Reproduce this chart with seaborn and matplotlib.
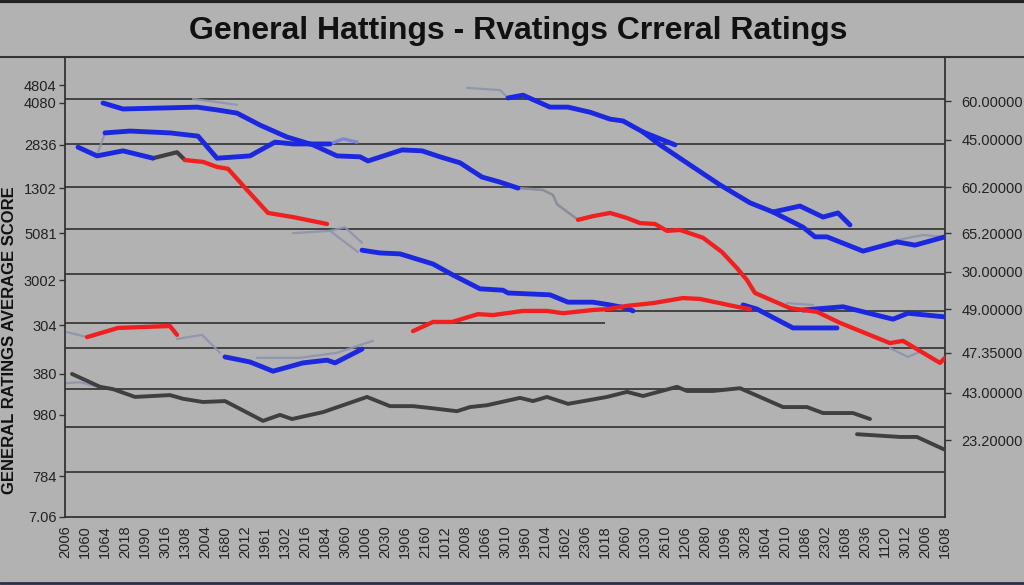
import matplotlib
matplotlib.use("Agg")
import matplotlib.pyplot as plt
import seaborn as sns
from matplotlib.lines import Line2D

# ---- data (x = week index, y = rating score) ----
blue_a_x = [1.9, 2.9, 4.75, 6.6, 7.6, 8.6, 9.75, 11.1, 12.4, 13.6, 14.75, 15.15, 16.85, 17.85, 18.75, 19.75, 20.85, 21.75, 22.65]
blue_a_y = [90.0, 88.7, 88.9, 89.1, 88.5, 87.8, 85.2, 82.6, 80.9, 78.5, 78.3, 77.4, 79.8, 79.6, 78.3, 77.0, 73.9, 72.8, 71.5]
gray_a_x = [22.65, 23.9, 24.4, 24.6, 25.65]
gray_a_y = [71.5, 71.1, 70.0, 68.0, 64.6]

blue_b_x = [0.65, 1.6, 2.9, 4.4]
blue_b_y = [80.4, 78.5, 79.6, 78.0]
dark_b_x = [4.4, 5.6, 6.0]
dark_b_y = [78.0, 79.3, 77.6]

blue_c_x = [2.0, 3.25, 5.25, 6.65, 7.6, 9.25, 10.5, 11.4, 12.4, 13.25]
blue_c_y = [83.5, 83.9, 83.5, 82.8, 78.0, 78.5, 81.5, 81.1, 81.1, 81.1]
lav_c_x = [13.25, 13.9, 14.6]
lav_c_y = [81.1, 82.2, 81.5]

blue_d_x = [14.85, 15.75, 16.75, 18.4, 19.4, 20.75, 21.9, 22.15, 24.25, 25.15, 26.4, 27.25, 28.1, 28.4]
blue_d_y = [58.0, 57.4, 57.2, 55.0, 52.6, 49.6, 49.3, 48.7, 48.3, 46.7, 46.7, 46.1, 45.4, 44.8]
blue_d2_x = [33.9, 34.6, 36.4, 38.6]
blue_d2_y = [46.1, 45.2, 41.1, 41.1]
blue_d3_x = [36.9, 38.9, 41.4, 42.15, 44.0]
blue_d3_y = [45.0, 45.7, 43.0, 44.3, 43.5]

blue_e_x = [22.15, 22.9, 24.25, 25.15, 26.25, 27.25, 27.9, 28.9, 30.5]
blue_e_y = [91.1, 91.7, 89.1, 89.1, 88.0, 86.5, 86.1, 83.7, 80.9]
blue_e2_x = [28.9, 29.75, 31.4, 32.75, 34.25, 35.4, 36.9, 37.5, 38.1, 39.9, 41.6, 42.5, 44.0]
blue_e2_y = [83.7, 80.9, 76.1, 72.2, 68.3, 66.3, 63.0, 60.9, 60.9, 57.8, 59.8, 59.1, 60.9]
blue_e3_x = [35.4, 36.75, 37.9, 38.65, 39.25]
blue_e3_y = [66.3, 67.6, 65.2, 66.1, 63.5]

blue_h_x = [8.0, 9.25, 10.4, 11.9, 13.1, 13.5, 14.85]
blue_h_y = [34.8, 33.7, 31.7, 33.5, 34.1, 33.5, 36.5]

red_1_x = [25.65, 26.4, 27.25, 28.1, 28.75, 29.5, 30.1, 30.75, 31.9, 32.85, 33.6, 34.1, 34.5, 36.25, 37.6, 38.75, 41.25, 41.9, 43.75, 44.0]
red_1_y = [64.6, 65.4, 66.1, 65.0, 63.9, 63.7, 62.2, 62.4, 60.7, 57.6, 54.1, 51.5, 48.7, 45.4, 44.6, 42.2, 37.8, 38.3, 33.5, 34.6]
red_2_x = [17.4, 18.4, 19.35, 20.65, 21.4, 22.9, 24.1, 24.9, 26.4, 27.15, 28.1, 29.4, 30.9, 31.75, 33.6, 34.25]
red_2_y = [40.4, 42.4, 42.4, 44.1, 43.9, 44.8, 44.8, 44.3, 45.0, 45.2, 45.9, 46.5, 47.6, 47.4, 45.7, 45.2]
red_3_x = [6.0, 6.9, 7.6, 8.15, 9.1, 10.15, 11.4, 13.1]
red_3_y = [77.6, 77.2, 76.1, 75.7, 71.1, 66.1, 65.2, 63.7]
red_4_x = [1.1, 2.65, 5.1, 5.25, 5.6]
red_4_y = [39.1, 41.1, 41.5, 41.5, 39.6]

dark_f_x = [0.35, 1.75, 2.4, 3.5, 5.25, 5.9, 6.9, 8.0, 9.9, 10.75, 11.35, 12.9, 13.9, 15.1, 16.25, 17.4, 18.25, 19.6,
            20.25, 21.1, 22.75, 23.4, 24.1, 25.15, 27.1, 28.1, 28.9, 30.6, 31.1, 32.4, 33.75, 35.9, 37.1, 37.9, 39.4, 40.25]
dark_f_y = [31.1, 28.3, 27.8, 26.1, 26.5, 25.7, 25.0, 25.2, 20.9, 22.2, 21.3, 22.8, 24.3, 26.1, 24.1, 24.1, 23.7, 23.0,
            23.9, 24.3, 25.9, 25.2, 26.1, 24.6, 26.1, 27.2, 26.3, 28.3, 27.4, 27.4, 28.0, 23.9, 23.9, 22.6, 22.6, 21.3]
dark_f2_x = [39.6, 41.75, 42.6, 44.0]
dark_f2_y = [18.0, 17.4, 17.4, 14.6]

# faint grey / lavender fragments
faint_segments_x = [[1.65, 2.0], [6.4, 8.6], [11.4, 13.25, 14.0, 14.85], [13.25, 14.65], [20.1, 21.75, 22.15],
                    [0.1, 1.1], [5.6, 6.85, 7.75], [9.6, 11.75, 13.6, 15.4], [0.1, 0.75, 1.6],
                    [36.1, 37.4], [41.25, 42.15, 42.75], [41.6, 42.9, 44.0]]
faint_segments_y = [[79.3, 83.5], [90.9, 89.6], [61.7, 62.2, 63.0, 59.6], [62.2, 57.6], [93.3, 92.8, 91.1],
                    [40.2, 39.1], [38.7, 39.6, 35.7], [34.6, 34.6, 35.7, 38.3], [29.1, 29.3, 28.3],
                    [46.5, 46.1], [36.7, 34.8, 35.9], [60.2, 61.3, 60.9]]

grid_levels = [90.9, 81.1, 71.7, 62.6, 52.8, 36.7, 27.8, 19.6, 9.8]

left_ticks = [93.9, 90.0, 80.9, 71.5, 61.7, 51.5, 41.7, 31.1, 22.2, 8.9, 0.0]
left_labels = ["4804", "4080", "2836", "1302", "5081", "3002", "304", "380", "980", "784", "7.06"]
right_ticks = [90.4, 82.0, 71.7, 61.7, 53.3, 45.2, 35.7, 27.0, 16.7]
right_labels = ["60.00000", "45.00000", "60.20000", "65.20000", "30.00000", "49.00000", "47.35000", "43.00000", "23.20000"]

x_labels = ["2006", "1060", "1064", "2018", "1090", "3016", "1308", "2004", "1680", "2012", "1961", "1302",
            "2016", "1084", "3060", "1006", "2030", "1906", "2160", "1012", "2008", "1066", "3010", "1960",
            "2104", "1602", "2306", "1018", "2060", "1030", "2610", "1206", "2080", "1096", "3028", "1604",
            "2010", "1086", "2302", "1608", "2036", "1120", "3012", "2006", "1608"]

BG = "#b2b2b2"
BLUE = "#1c28e0"
RED = "#f02020"
DARK = "#3f3f3f"
FAINT = "#8d93ad"

sns.set_style("white", {"axes.facecolor": BG, "figure.facecolor": BG})
plt.rcParams["font.family"] = ["Liberation Sans", "DejaVu Sans"]

fig = plt.figure(figsize=(10.24, 5.85), dpi=100)
ax = fig.add_axes([65 / 1024, 68 / 585, 880 / 1024, 460 / 585])

# grid lines
for g in grid_levels:
    ax.axhline(g, color="#3a3a3a", lw=1.3, zorder=1)
ax.hlines(42.2, 0, 27, color="#3a3a3a", lw=1.3, zorder=1)
ax.hlines(44.8, 27, 44, color="#3a3a3a", lw=1.3, zorder=1)


def draw(xs, ys, color, lw, alpha=1.0):
    sns.lineplot(x=xs, y=ys, ax=ax, color=color, lw=lw, sort=False, estimator=None,
                 alpha=alpha, solid_capstyle="round", solid_joinstyle="round", zorder=3)


for fx, fy in zip(faint_segments_x, faint_segments_y):
    draw(fx, fy, FAINT, 1.6, 0.9)

draw(gray_a_x, gray_a_y, "#8a8e98", 1.8)
draw(lav_c_x, lav_c_y, "#7f86d8", 2.4)
draw(dark_f_x, dark_f_y, DARK, 2.8)
draw(dark_f2_x, dark_f2_y, DARK, 2.8)
draw(dark_b_x, dark_b_y, DARK, 3.0)
for bx, by in [(blue_a_x, blue_a_y), (blue_b_x, blue_b_y), (blue_c_x, blue_c_y), (blue_d_x, blue_d_y),
               (blue_d2_x, blue_d2_y), (blue_d3_x, blue_d3_y), (blue_e_x, blue_e_y), (blue_e2_x, blue_e2_y),
               (blue_e3_x, blue_e3_y), (blue_h_x, blue_h_y)]:
    draw(bx, by, BLUE, 3.5)
for rx, ry in [(red_1_x, red_1_y), (red_2_x, red_2_y), (red_3_x, red_3_y), (red_4_x, red_4_y)]:
    draw(rx, ry, RED, 3.1)

ax.set_xlim(0, 44)
ax.set_ylim(0, 100)
ax.set_xlabel("")
ax.set_ylabel("")

ax.set_yticks(left_ticks)
ax.set_yticklabels(left_labels, fontsize=10.5, color="#222222")
ax.set_xticks(range(len(x_labels)))
ax.set_xticklabels(x_labels, rotation=90, fontsize=10.5, color="#222222")
ax.tick_params(axis="both", direction="out", length=4, width=1, color="#333333", pad=2)

for side in ["left", "bottom", "right"]:
    ax.spines[side].set_color("#333333")
    ax.spines[side].set_linewidth(1.3)
ax.spines["top"].set_visible(False)

ax2 = ax.twinx()
ax2.set_ylim(0, 100)
ax2.set_yticks(right_ticks)
ax2.set_yticklabels(right_labels, fontsize=10.5, color="#222222")
ax2.tick_params(axis="y", direction="out", length=4, width=1, color="#333333", pad=8)
for side in ax2.spines:
    ax2.spines[side].set_visible(False)

fig.text(518 / 1024, 1 - 31 / 585, "General Hattings - Rvatings Crreral Ratings",
         ha="center", va="center", fontsize=23, fontweight="bold", color="#111111")
fig.text(10 / 1024, 1 - 340 / 585, "GENERAL RATINGS AVERAGE SCORE", rotation=90,
         ha="center", va="center", fontsize=12, fontweight="bold", color="#111111")

fig.add_artist(Line2D([0, 1], [1 - 57 / 585, 1 - 57 / 585], color="#333333", lw=1.5))
fig.add_artist(Line2D([0, 1], [0.998, 0.998], color="#222222", lw=3))
fig.add_artist(Line2D([0, 1], [0.003, 0.003], color="#2a3048", lw=2))

fig.savefig("out.png", dpi=100, facecolor=BG)
